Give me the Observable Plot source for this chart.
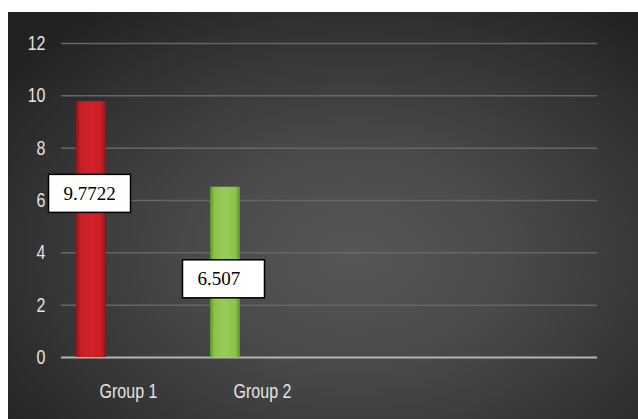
<!DOCTYPE html>
<html><head><meta charset="utf-8">
<script src="https://cdn.jsdelivr.net/npm/d3@7"></script>
<script src="https://cdn.jsdelivr.net/npm/@observablehq/plot@0.6"></script>
<style>
html,body{margin:0;padding:0;background:#fff;width:638px;height:419px;overflow:hidden}
#chart{position:absolute;left:8px;top:12px;width:630px;height:407px;
background:radial-gradient(ellipse 70% 75% at 55% 60%, #575757 0%, #4a4a4a 35%, #353535 70%, #222 100%);}
svg{display:block}
</style></head><body><div id="chart"></div>
<script>
const categories = ["Group 1", "Group 2"];
const values = [9.7722, 6.507];
const valueLabels = ["9.7722", "6.507"];
const yTicks = [0, 2, 4, 6, 8, 10, 12];
const barKeys = ["red", "green"];

const data = categories.map((c, i) => ({category: c, value: values[i], label: valueLabels[i], key: barKeys[i]}));

const plot = Plot.plot({
  width: 630,
  height: 407,
  marginLeft: 53,
  marginRight: 41,
  marginTop: 31,
  marginBottom: 62,
  style: {background: "transparent", color: "#e4e4e4", fontFamily: "'Liberation Sans', Arial, sans-serif", fontSize: "20px"},
  x: {domain: categories, range: [53, 321], padding: 0, tickSize: 0, tickPadding: 26, label: null},
  y: {domain: [0, 12], ticks: yTicks, tickSize: 0, tickPadding: 16, label: null},
  color: {type: "identity"},
  marks: [
    Plot.ruleY(yTicks.filter(d => d > 0), {stroke: "#666", strokeWidth: 1.5}),
    Plot.ruleY([0], {stroke: "#b4b4b4", strokeWidth: 2}),
    Plot.barY(data, {x: "category", y: "value", fill: d => `url(#bar-${d.key})`, insetLeft: 15, insetRight: 89}),
    Plot.tickY(data, {x: "category", y: "value", stroke: d => `url(#bev-${d.key})`, strokeWidth: 7, dy: 3.5, insetLeft: 15, insetRight: 89}),
    Plot.text(data, {x: "category", y: "value", text: "label", textAnchor: "start", lineAnchor: "middle", dx: -65, dy: 92,
      fill: "#000", fontFamily: "'Liberation Serif', 'Times New Roman', serif", fontSize: 19})
  ]
});

const chart = document.getElementById("chart");
chart.appendChild(plot);

const ns = "http://www.w3.org/2000/svg";
const defs = document.createElementNS(ns, "defs");
function grad(id, stops) {
  const g = document.createElementNS(ns, "linearGradient");
  g.setAttribute("id", id);
  g.setAttribute("x1", "0"); g.setAttribute("y1", "0");
  g.setAttribute("x2", "1"); g.setAttribute("y2", "0");
  for (const [o, c] of stops) {
    const s = document.createElementNS(ns, "stop");
    s.setAttribute("offset", o); s.setAttribute("stop-color", c);
    g.appendChild(s);
  }
  defs.appendChild(g);
}
grad("bar-red", [[0, "#8a161a"], [0.14, "#c41e25"], [0.5, "#d32229"], [0.86, "#c41e25"], [1, "#8a161a"]]);
grad("bar-green", [[0, "#5e8e2c"], [0.14, "#8bc34a"], [0.5, "#99cd57"], [0.86, "#8bc34a"], [1, "#5e8e2c"]]);
grad("bev-red", [[0, "#a8181d"], [0.2, "#ec5055"], [0.5, "#e5434a"], [0.8, "#ec5055"], [1, "#a8181d"]]);
grad("bev-green", [[0, "#7aa83e"], [0.2, "#c8ea92"], [0.5, "#bce27f"], [0.8, "#c8ea92"], [1, "#7aa83e"]]);
plot.insertBefore(defs, plot.firstChild);

// condensed look for axis tick labels
plot.querySelectorAll('g[aria-label$="tick label"] text').forEach(t => {
  const x = +(t.getAttribute("x") || 0);
  const tr = t.getAttribute("transform") || "";
  t.setAttribute("transform", `${tr} translate(${x},0) scale(0.8,1) translate(${-x},0)`);
});

// white boxes behind the value labels
Array.from(plot.querySelectorAll("text"))
  .filter(t => valueLabels.includes(t.textContent.trim()))
  .forEach(t => {
    const bb = t.getBBox();
    const cy = bb.y + bb.height / 2;
    const r = document.createElementNS(ns, "rect");
    r.setAttribute("x", bb.x - 15);
    r.setAttribute("y", cy - 19);
    r.setAttribute("width", 82);
    r.setAttribute("height", 38);
    r.setAttribute("fill", "#fff");
    r.setAttribute("stroke", "#000");
    r.setAttribute("stroke-width", 1.5);
    if (t.getAttribute("transform")) r.setAttribute("transform", t.getAttribute("transform"));
    t.parentNode.insertBefore(r, t);
  });
</script>
</body></html>
